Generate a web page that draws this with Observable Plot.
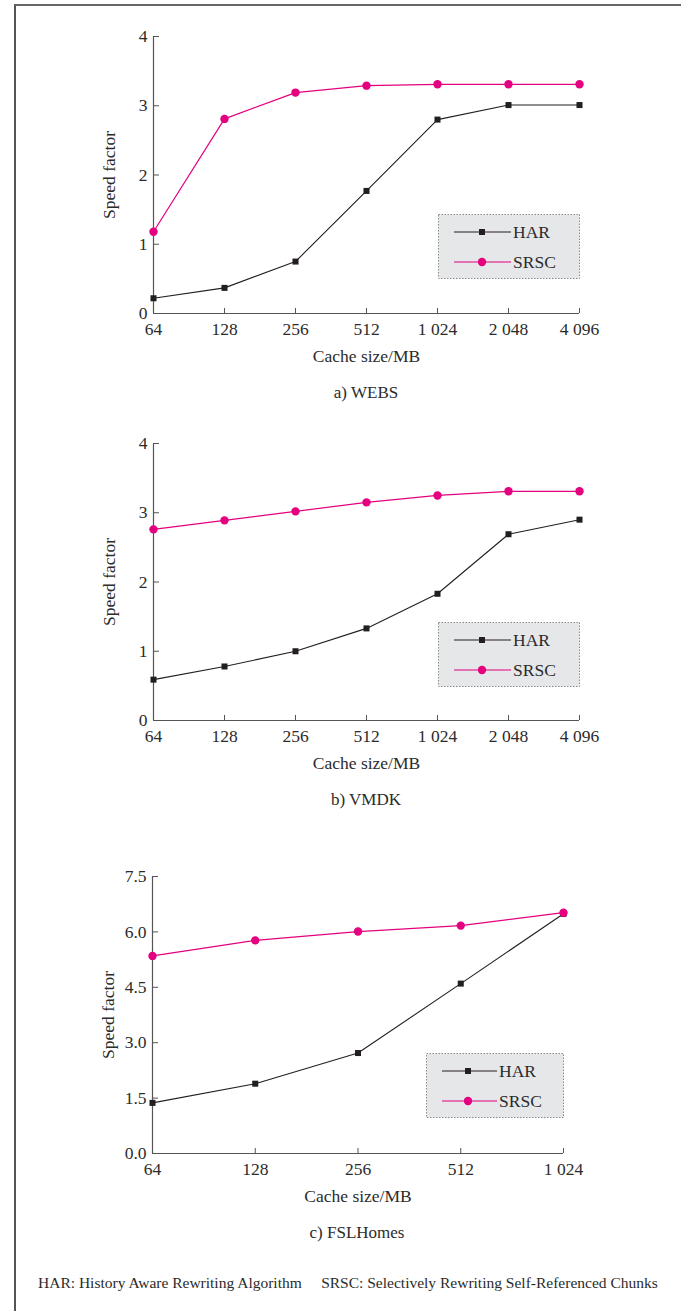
<!DOCTYPE html>
<html>
<head>
<meta charset="utf-8">
<script src="https://cdn.jsdelivr.net/npm/d3@7"></script>
<script src="https://cdn.jsdelivr.net/npm/@observablehq/plot@0.6"></script>
<style>
  html, body { margin: 0; padding: 0; background: #fff; }
  #page { position: relative; width: 681px; height: 1311px; overflow: hidden; background: #fff;
          font-family: "Liberation Serif", "DejaVu Serif", serif; color: #2b2b2b; }
  #frame { position: absolute; left: 14px; top: 4px; width: 665px; height: 1320px;
           border-top: 2px solid #666; border-left: 2px solid #555; border-right: 1px solid #e4e4e4; }
  .panel { position: absolute; left: 0; }
  .caption { position: absolute; font-size: 17px; text-align: center; transform: translate(-50%, -50%); white-space: nowrap; }
  .legend { position: absolute; }
  #footer { position: absolute; left: 38px; top: 1283px; transform: translateY(-50%); font-size: 15.5px; white-space: pre; }
</style>
</head>
<body>
<div id="page">
  <div id="frame"></div>
</div>
<script>
// ---- data ----
const cacheA = [64, 128, 256, 512, 1024, 2048, 4096];
const harA   = [0.22, 0.37, 0.75, 1.77, 2.80, 3.01, 3.01];
const srscA  = [1.18, 2.81, 3.19, 3.29, 3.31, 3.31, 3.31];

const cacheB = [64, 128, 256, 512, 1024, 2048, 4096];
const harB   = [0.59, 0.78, 1.00, 1.33, 1.83, 2.69, 2.90];
const srscB  = [2.76, 2.89, 3.02, 3.15, 3.25, 3.31, 3.31];

const cacheC = [64, 128, 256, 512, 1024];
const harC   = [1.37, 1.89, 2.72, 4.60, 6.49];
const srscC  = [5.35, 5.77, 6.01, 6.17, 6.52];

const yTicksAB = [0, 1, 2, 3, 4];
const yTicksC  = [0, 1.5, 3.0, 4.5, 6.0, 7.5];

const seriesNames = ["HAR", "SRSC"];
const captions = ["a) WEBS", "b) VMDK", "c) FSLHomes"];
const xLabel = "Cache size/MB";
const yLabel = "Speed factor";
const footerText = "HAR: History Aware Rewriting Algorithm     SRSC: Selectively Rewriting Self-Referenced Chunks";

const HAR_COLOR = "#231f20";
const SRSC_COLOR = "#e4007f";
const AXIS_COLOR = "#555";
const FONT = "Liberation Serif, DejaVu Serif, serif";

const fmtX = d => d >= 1000 ? Math.floor(d / 1000) + " " + String(d % 1000).padStart(3, "0") : String(d);

function panel({xs, har, srsc, yTicks, yFmt, marginLeft, marginRight}) {
  const width = 681, height = 370, marginTop = 36, marginBottom = 57;
  const innerH = height - marginTop - marginBottom;
  const innerW = width - marginLeft - marginRight;
  const harData = xs.map((x, i) => ({x, y: har[i]}));
  const srscData = xs.map((x, i) => ({x, y: srsc[i]}));
  const yDomain = [yTicks[0], yTicks[yTicks.length - 1]];
  return Plot.plot({
    width, height, marginTop, marginBottom, marginLeft, marginRight,
    style: {fontFamily: FONT, fontSize: "17.5px", color: "#2b2b2b", background: "transparent", overflow: "visible"},
    x: {type: "log", base: 2, domain: [xs[0], xs[xs.length - 1]]},
    y: {domain: yDomain},
    marks: [
      Plot.axisX({ticks: xs, tickFormat: fmtX, tickSize: 0, tickPadding: 9, label: xLabel, labelAnchor: "center", labelOffset: 48, labelArrow: "none", fontSize: 17.5}),
      Plot.axisY({ticks: yTicks, tickFormat: yFmt, tickSize: 0, tickPadding: 6, label: yLabel, labelAnchor: "center", labelOffset: 51, labelArrow: "none", fontSize: 17.5}),
      Plot.tickX(xs, {x: d => d, insetTop: innerH - 5, stroke: AXIS_COLOR}),
      Plot.tickY(yTicks.slice(1), {y: d => d, insetRight: innerW - 6, stroke: AXIS_COLOR}),
      Plot.ruleY([yDomain[0]], {stroke: AXIS_COLOR, strokeWidth: 1.2}),
      Plot.ruleX([xs[0]], {stroke: AXIS_COLOR, strokeWidth: 1.2}),
      Plot.line(harData, {x: "x", y: "y", stroke: HAR_COLOR, strokeWidth: 1.1}),
      Plot.dot(harData, {x: "x", y: "y", symbol: "square", fill: HAR_COLOR, r: 3.4}),
      Plot.line(srscData, {x: "x", y: "y", stroke: SRSC_COLOR, strokeWidth: 1.2}),
      Plot.dot(srscData, {x: "x", y: "y", symbol: "circle", fill: SRSC_COLOR, r: 4.2})
    ]
  });
}

function legend(w, lineStart, lineEnd, markerX, textX) {
  const h = 64;
  const svg = d3.create("svg").attr("width", w + 2).attr("height", h + 2)
    .style("font-family", FONT).style("font-size", "17.5px");
  svg.append("rect").attr("x", 0.5).attr("y", 0.5).attr("width", w).attr("height", h)
    .attr("fill", "#e6e7e8").attr("stroke", "#8a8a8a").attr("stroke-width", 1).attr("stroke-dasharray", "1.5,1.5");
  const rows = [
    {name: seriesNames[0], color: HAR_COLOR, sym: "square", y: 18},
    {name: seriesNames[1], color: SRSC_COLOR, sym: "circle", y: 48}
  ];
  for (const r of rows) {
    svg.append("line").attr("x1", lineStart).attr("x2", lineEnd).attr("y1", r.y).attr("y2", r.y)
      .attr("stroke", r.color).attr("stroke-width", r.sym === "square" ? 1.1 : 1.2);
    if (r.sym === "square") {
      svg.append("rect").attr("x", markerX - 3).attr("y", r.y - 3).attr("width", 6).attr("height", 6).attr("fill", r.color);
    } else {
      svg.append("circle").attr("cx", markerX).attr("cy", r.y).attr("r", 4.2).attr("fill", r.color);
    }
    svg.append("text").attr("x", textX).attr("y", r.y).attr("dy", "0.35em").attr("fill", "#2b2b2b").text(r.name);
  }
  return svg.node();
}

const page = document.getElementById("page");
const panels = [
  {top: 0, cfg: {xs: cacheA, har: harA, srsc: srscA, yTicks: yTicksAB, yFmt: d => String(d), marginLeft: 153, marginRight: 102},
   leg: {left: 438, top: 214, w: 141, ls: 16, le: 73, mx: 44, tx: 75}, cap: {x: 366, y: 393}},
  {top: 407, cfg: {xs: cacheB, har: harB, srsc: srscB, yTicks: yTicksAB, yFmt: d => String(d), marginLeft: 153, marginRight: 102},
   leg: {left: 438, top: 622, w: 141, ls: 16, le: 73, mx: 44, tx: 75}, cap: {x: 366, y: 800}},
  {top: 840, cfg: {xs: cacheC, har: harC, srsc: srscC, yTicks: yTicksC, yFmt: d3.format(".1f"), marginLeft: 152, marginRight: 118},
   leg: {left: 426, top: 1053, w: 137, ls: 16, le: 71, mx: 42, tx: 73}, cap: {x: 357, y: 1233}}
];
panels.forEach((p, i) => {
  const div = document.createElement("div");
  div.className = "panel";
  div.style.top = p.top + "px";
  div.appendChild(panel(p.cfg));
  page.appendChild(div);

  const lg = document.createElement("div");
  lg.className = "legend";
  lg.style.left = p.leg.left + "px";
  lg.style.top = p.leg.top + "px";
  lg.appendChild(legend(p.leg.w, p.leg.ls, p.leg.le, p.leg.mx, p.leg.tx));
  page.appendChild(lg);

  const cap = document.createElement("div");
  cap.className = "caption";
  cap.style.left = p.cap.x + "px";
  cap.style.top = p.cap.y + "px";
  cap.textContent = captions[i];
  page.appendChild(cap);
});

const footer = document.createElement("div");
footer.id = "footer";
footer.textContent = footerText;
page.appendChild(footer);
</script>
</body>
</html>
